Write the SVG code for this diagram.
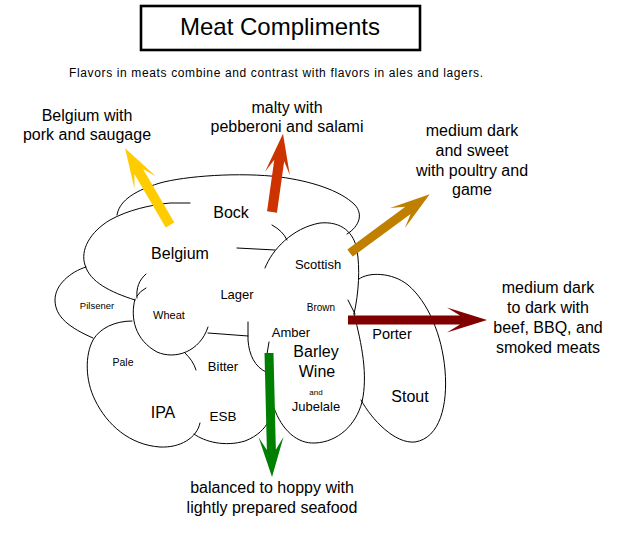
<svg xmlns="http://www.w3.org/2000/svg" width="622" height="534" viewBox="0 0 622 534">
<style>
text{font-family:"Liberation Sans",Arial,sans-serif;fill:#000;text-anchor:middle}
.o{fill:none;stroke:#000;stroke-width:1;stroke-linecap:round}
.f16{font-size:16px}
.f14{font-size:14px}
.f13{font-size:13px}
.f11{font-size:11px}
.f10{font-size:10px}
</style>
<rect width="622" height="534" fill="#fff"/>
<g id="title">
<rect x="141" y="6" width="279" height="44" fill="#fff" stroke="#000" stroke-width="2.6"/>
<text x="280" y="35" style="font-size:24px">Meat Compliments</text>
</g>
<g id="subtitle">
<text x="276" y="77" style="font-size:12px" textLength="414" lengthAdjust="spacing">Flavors in meats combine and contrast with flavors in ales and lagers.</text>
</g>
<g id="cloud">
<path class="o" d="M117,215 C119,203 130,192 160,183 C185,176 240,172 280,177 C310,181 340,190 355,205 C363,214 360,226 347,234"/>
<path class="o" d="M190,203 L170,203 C150,205 128,210 110,220 C90,232 80,250 85,265 C90,282 110,292 135,300"/>
<path class="o" d="M86,267 C70,272 55,285 55,300 C55,317 70,328 93,338"/>
<path class="o" d="M135,299 C130,318 135,340 157,352 C175,360 200,352 208,327"/>
<path class="o" d="M146,274 C139,280 136,288 137,298"/>
<path class="o" d="M146,288 Q140,291 137,296"/>
<path class="o" d="M132,321 C115,321 100,328 93,340 C85,355 85,380 95,400 C107,425 130,445 160,447 C180,448 197,438 200,423"/>
<path class="o" d="M194,434 C205,442 225,447 245,441 C258,436 265,428 268,422"/>
<path class="o" d="M185,353 C190,358 194,363 196,370"/>
<path class="o" d="M208,333 L248,336"/>
<path class="o" d="M248,322 L248,340 C249,355 255,367 266,372"/>
<path class="o" d="M269,342 L267,354"/>
<path class="o" d="M272,225 Q283,231 287,240"/>
<path class="o" d="M237,248 L275,250"/>
<path class="o" d="M265,268 C272,250 292,228 320,223 C342,221 354,233 357,250 C360,268 359,292 354,314"/>
<path class="o" d="M348,300 L355,314"/>
<path class="o" d="M354,314 C362,345 368,375 362,402 C356,425 338,442 315,443 C297,444 282,430 274,408"/>
<path class="o" d="M359,279 C368,272 392,272 408,285 C428,302 442,335 445,370 C448,405 440,438 415,442 C395,444 372,420 361,400"/>
</g>
<g id="node-bock"><text class="f16" x="231" y="218">Bock</text></g>
<g id="node-belgium"><text class="f16" x="180" y="259">Belgium</text></g>
<g id="node-scottish"><text class="f13" x="318" y="269">Scottish</text></g>
<g id="node-lager"><text class="f13" x="237" y="299">Lager</text></g>
<g id="node-brown"><text class="f10" x="321" y="311">Brown</text></g>
<g id="node-pilsener"><text x="97" y="309" style="font-size:9.5px">Pilsener</text></g>
<g id="node-wheat"><text class="f11" x="169" y="319">Wheat</text></g>
<g id="node-amber"><text class="f13" x="291" y="337">Amber</text></g>
<g id="node-porter"><text x="392" y="339" style="font-size:14.5px">Porter</text></g>
<g id="node-barleywine">
<text class="f16" x="316" y="357">Barley</text>
<text class="f16" x="317" y="377">Wine</text>
<text x="316" y="395" style="font-size:8px">and</text>
<text class="f13" x="316" y="411">Jubelale</text>
</g>
<g id="node-pale"><text x="123" y="366" style="font-size:10.5px">Pale</text></g>
<g id="node-bitter"><text class="f13" x="223" y="371">Bitter</text></g>
<g id="node-ipa"><text class="f16" x="163" y="418">IPA</text></g>
<g id="node-esb"><text x="223" y="421" style="font-size:13.5px">ESB</text></g>
<g id="node-stout"><text class="f16" x="410" y="402">Stout</text></g>
<g id="connectors">
<polygon fill="#FFCC00" transform="translate(170,225) rotate(-120.3)" points="0,-5 62,-5 49,-12.5 89,0 49,12.5 62,5 0,5"/>
<polygon fill="#CC3300" transform="translate(272,212) rotate(-82)" points="0,-5 52,-5 39,-12.5 79,0 39,12.5 52,5 0,5"/>
<polygon fill="#BF8000" transform="translate(350,253) rotate(-36.4)" points="0,-4.5 72,-4.5 59,-12.5 99,0 59,12.5 72,4.5 0,4.5"/>
<polygon fill="#800000" transform="translate(348,320)" points="0,-4.5 112,-4.5 99,-12.5 139,0 99,12.5 112,4.5 0,4.5"/>
<polygon fill="#008000" transform="translate(269,353) rotate(88.6)" points="0,-4.5 97,-4.5 84,-12.5 124,0 84,12.5 97,4.5 0,4.5"/>
</g>
<g id="label-belgium">
<text class="f16" x="87" y="121">Belgium with</text>
<text class="f16" x="87" y="140">pork and saugage</text>
</g>
<g id="label-malty">
<text class="f16" x="287" y="113">malty with</text>
<text class="f16" x="287" y="132">pebberoni and salami</text>
</g>
<g id="label-mediumsweet">
<text class="f16" x="472" y="136">medium dark</text>
<text class="f16" x="472" y="156">and sweet</text>
<text class="f16" x="472" y="176">with poultry and</text>
<text class="f16" x="472" y="195">game</text>
</g>
<g id="label-dark">
<text class="f16" x="548" y="293">medium dark</text>
<text class="f16" x="548" y="313">to dark with</text>
<text class="f16" x="548" y="333">beef, BBQ, and</text>
<text class="f16" x="548" y="353">smoked meats</text>
</g>
<g id="label-hoppy">
<text class="f16" x="272" y="493">balanced to hoppy with</text>
<text class="f16" x="272" y="513">lightly prepared seafood</text>
</g>
</svg>
